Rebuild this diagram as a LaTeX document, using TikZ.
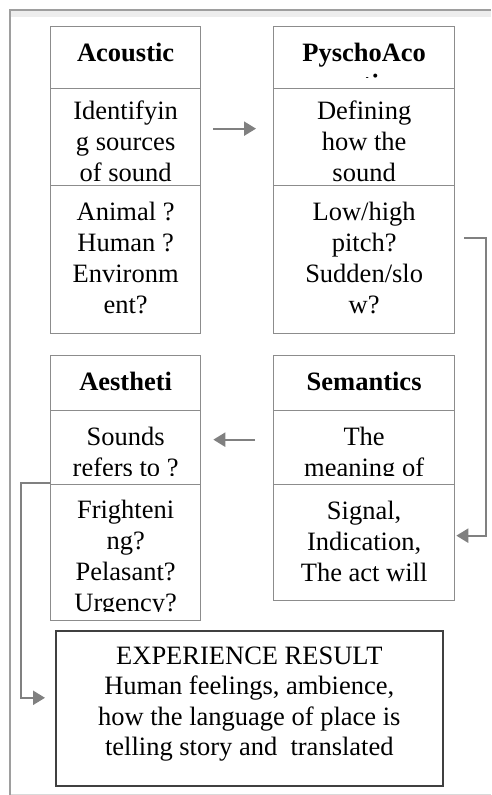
\documentclass[tikz,border=0pt]{standalone}
\usepackage{fontspec}
\setmainfont{Liberation Serif}
\usetikzlibrary{arrows.meta}

\tikzset{
  cellbox/.style={draw=black!45, line width=1.3pt, inner sep=0pt, anchor=north west},
  txt/.style={font=\fontsize{26.5}{31}\selectfont, align=center, inner sep=0pt, anchor=north},
  head/.style={txt, font=\fontsize{26.5}{31}\selectfont\bfseries},
  conn/.style={draw=black!50, line width=2.3pt, -{Triangle[length=12pt,width=14pt]}},
}

% text of a cell: #5 = first baseline below the top edge,
% cut off #1 pt above the lower edge of the cell
\newcommand{\celltext}[6][10]{%
  \begin{scope}
    \clip (#4.north west) rectangle ([yshift=#1pt]#4.south east);
    \node[#2] (#3) at ([yshift={-(#5pt-21.7pt)}]#4.north) {\strut#6};
  \end{scope}}

\begin{document}
\begin{tikzpicture}[x=1pt, y=-1pt]
  \useasboundingbox (0,0) rectangle (491,795);

  % page frame
  \fill[black!7] (11,11) rectangle (491,17);
  \draw[black!15] (10,794) -- (491,794);
  \draw[black!38, line width=1.5pt] (10,795) -- (10,10) -- (491,10);

  % cells
  \node[cellbox, minimum width=150pt, minimum height=62pt] (ac1) at (50,26) {};
  \node[cellbox, minimum width=150pt, minimum height=97pt] (ac2) at (50,88) {};
  \node[cellbox, minimum width=150pt, minimum height=148pt] (ac3) at (50,185) {};
  \node[cellbox, minimum width=181pt, minimum height=62pt] (ps1) at (273,26) {};
  \node[cellbox, minimum width=181pt, minimum height=97pt] (ps2) at (273,88) {};
  \node[cellbox, minimum width=181pt, minimum height=148pt] (ps3) at (273,185) {};
  \node[cellbox, minimum width=150pt, minimum height=55pt] (ae1) at (50,355) {};
  \node[cellbox, minimum width=150pt, minimum height=74pt] (ae2) at (50,410) {};
  \node[cellbox, minimum width=150pt, minimum height=136pt] (ae3) at (50,484) {};
  \node[cellbox, minimum width=181pt, minimum height=55pt] (se1) at (273,355) {};
  \node[cellbox, minimum width=181pt, minimum height=74pt] (se2) at (273,410) {};
  \node[cellbox, minimum width=181pt, minimum height=116pt] (se3) at (273,484) {};
  \node[cellbox, draw=black!75, line width=1.6pt, minimum width=387pt, minimum height=155pt] (exp) at (55,630) {};

  \celltext{head}{ac1t}{ac1}{35}{Acoustic}
  \celltext[2]{txt}{ac2t}{ac2}{31}{Identifyin\\g sources\\of sound}
  \celltext{txt}{ac3t}{ac3}{35}{Animal ?\\Human ?\\Environm\\ent?}
  \celltext[12]{head}{ps1t}{ps1}{35}{PyschoAco\\ustic}
  \celltext[2]{txt}{ps2t}{ps2}{31}{Defining\\how the\\sound}
  \celltext{txt}{ps3t}{ps3}{35}{Low/high\\pitch?\\Sudden/slo\\w?}
  \celltext{head}{ae1t}{ae1}{35}{Aestheti\\c}
  \celltext{txt}{ae2t}{ae2}{35}{Sounds\\refers to ?}
  \celltext{txt}{ae3t}{ae3}{34}{Frighteni\\ng?\\Pelasant?\\Urgency?}
  \celltext{head}{se1t}{se1}{35}{Semantics}
  \celltext{txt}{se2t}{se2}{35}{The\\meaning of}
  \celltext{txt}{se3t}{se3}{35}{Signal,\\Indication,\\The act will}
  \node[txt, font=\fontsize{26.5}{30.5}\selectfont] (expt) at ([yshift=-12.6pt]exp.north)
    {\strut EXPERIENCE RESULT\\Human feelings, ambience,\\how the language of place is\\telling story and\ \ translated};

  % connectors
  \draw[conn] ([xshift=12pt,yshift=8.5pt]ac2.east) -- ([xshift=-17pt,yshift=8.5pt]ps2.west);
  \draw[conn] ([xshift=9pt,yshift=22pt]ps3.east) -- ++(22,0) |- ([xshift=1pt,yshift=7pt]se3.east);
  \draw[conn] ([xshift=-18pt,yshift=8pt]se2.west) -- ([xshift=12pt,yshift=8pt]ae2.east);
  \draw[conn] ([yshift=2pt]ae2.south west) -- ++(-29,0) |- ([xshift=-10pt,yshift=10.5pt]exp.west);
\end{tikzpicture}
\end{document}
